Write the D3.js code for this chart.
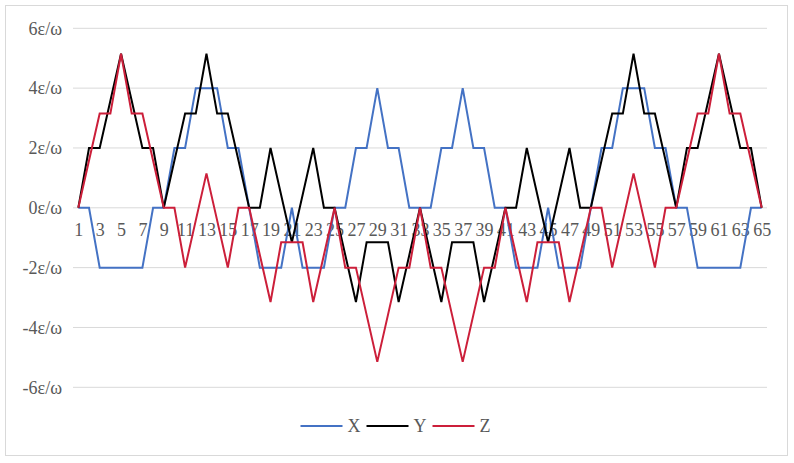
<!DOCTYPE html>
<html>
<head>
<meta charset="utf-8">
<title>X Y Z</title>
<script src="https://cdnjs.cloudflare.com/ajax/libs/d3/7.8.5/d3.min.js"></script>
<style>
	html, body { margin: 0; padding: 0; background: #fff; }
	svg text { font-family: "Liberation Serif", "Times New Roman", serif; fill: #595959; }
</style>
</head>
<body>
<svg id="chart" width="794" height="463"></svg>
<script>
(function (d3) {

	// categories 1..65 on the horizontal axis
	var categories = [
		1, 2, 3, 4, 5, 6, 7, 8, 9, 10, 11, 12, 13, 14, 15, 16, 17, 18, 19, 20,
		21, 22, 23, 24, 25, 26, 27, 28, 29, 30, 31, 32, 33, 34, 35, 36, 37, 38, 39, 40,
		41, 42, 43, 44, 45, 46, 47, 48, 49, 50, 51, 52, 53, 54, 55, 56, 57, 58, 59, 60,
		61, 62, 63, 64, 65
	];

	// only every other category gets a label
	var x_tick_labels = [1, 3, 5, 7, 9, 11, 13, 15, 17, 19, 21, 23, 25, 27, 29, 31, 33,
		35, 37, 39, 41, 43, 45, 47, 49, 51, 53, 55, 57, 59, 61, 63, 65];

	var y_ticks = [-6, -4, -2, 0, 2, 4, 6];

	// values in units of ε/ω
	var x_values = [
		0, 0, -2, -2, -2, -2, -2, 0, 0,
		2, 2, 4, 4, 4, 2, 2, 0,
		-2, -2, -2, 0, -2, -2, -2, 0,
		0, 2, 2, 4, 2, 2, 0, 0,
		0, 2, 2, 4, 2, 2, 0, 0,
		-2, -2, -2, 0, -2, -2, -2, 0,
		2, 2, 4, 4, 4, 2, 2, 0,
		0, -2, -2, -2, -2, -2, 0, 0
	];

	var y_values = [
		0, 2, 2, 3.58, 5.15, 3.58, 2, 2, 0,
		1.58, 3.15, 3.15, 5.15, 3.15, 3.15, 1.58, 0,
		0, 2, 0.42, -1.15, 0.42, 2, 0, 0,
		-1.58, -3.15, -1.15, -1.15, -1.15, -3.15, -1.58, 0,
		-1.58, -3.15, -1.15, -1.15, -1.15, -3.15, -1.58, 0,
		0, 2, 0.42, -1.15, 0.42, 2, 0, 0,
		1.58, 3.15, 3.15, 5.15, 3.15, 3.15, 1.58, 0,
		2, 2, 3.58, 5.15, 3.58, 2, 2, 0
	];

	var z_values = [
		0, 1.58, 3.15, 3.15, 5.15, 3.15, 3.15, 1.58, 0,
		0, -2, -0.42, 1.15, -0.42, -2, 0, 0,
		-1.58, -3.15, -1.15, -1.15, -1.15, -3.15, -1.58, 0,
		-2, -2, -3.58, -5.15, -3.58, -2, -2, 0,
		-2, -2, -3.58, -5.15, -3.58, -2, -2, 0,
		-1.58, -3.15, -1.15, -1.15, -1.15, -3.15, -1.58, 0,
		0, -2, -0.42, 1.15, -0.42, -2, 0, 0,
		1.58, 3.15, 3.15, 5.15, 3.15, 3.15, 1.58, 0
	];

	var series = [
		{ key: 'X', color: '#4472c4', values: x_values },
		{ key: 'Y', color: '#000000', values: y_values },
		{ key: 'Z', color: '#cc1f3a', values: z_values }
	];

	var svg = d3.select('#chart');

	// outer chart frame
	svg.append('rect')
		.attr('x', 5.5).attr('y', 5.5)
		.attr('width', 782).attr('height', 450)
		.attr('fill', '#fff')
		.attr('stroke', '#d9d9d9');

	var plot = { left: 73, right: 767, top: 28.3, bottom: 387.3 };

	var x = d3.scalePoint()
		.domain(categories)
		.range([plot.left, plot.right])
		.padding(0.5);

	var y = d3.scaleLinear()
		.domain([-6, 6])
		.range([plot.bottom, plot.top]);

	// horizontal gridlines
	svg.append('g')
		.selectAll('line')
		.data(y_ticks)
		.join('line')
		.attr('x1', plot.left).attr('x2', plot.right)
		.attr('y1', function(d) { return y(d); })
		.attr('y2', function(d) { return y(d); })
		.attr('stroke', '#d9d9d9')
		.attr('stroke-width', 1);

	var y_axis = svg.append('g')
		.attr('transform', 'translate(' + (plot.left - 11) + ',0)')
		.call(d3.axisLeft(y).tickValues(y_ticks).tickSize(0).tickPadding(0)
			.tickFormat(function(d) { return d + 'ε/ω'; }));
	y_axis.select('.domain').remove();
	y_axis.selectAll('text')
		.attr('font-size', 18)
		.attr('fill', '#595959')
		.style('font-family', '"Liberation Serif", serif');

	var x_axis = svg.append('g')
		.attr('transform', 'translate(0,' + y(0) + ')')
		.call(d3.axisBottom(x).tickValues(x_tick_labels).tickSize(0).tickPadding(15));
	x_axis.select('.domain').remove();
	x_axis.selectAll('text')
		.attr('font-size', 18)
		.attr('fill', '#595959')
		.style('font-family', '"Liberation Serif", serif');

	var line = d3.line()
		.x(function(d, i) { return x(categories[i]); })
		.y(function(d) { return y(d); });

	svg.append('g')
		.selectAll('path')
		.data(series)
		.join('path')
		.attr('d', function(s) { return line(s.values); })
		.attr('fill', 'none')
		.attr('stroke', function(s) { return s.color; })
		.attr('stroke-width', 2)
		.attr('stroke-linejoin', 'miter');

	// legend, centred under the plot
	var legend = svg.append('g').attr('transform', 'translate(300.5,426)');
	var item_x = 0;
	series.forEach(function(s) {
		legend.append('line')
			.attr('x1', item_x).attr('x2', item_x + 42)
			.attr('y1', 0).attr('y2', 0)
			.attr('stroke', s.color)
			.attr('stroke-width', 2);
		var label = legend.append('text')
			.attr('x', item_x + 47)
			.attr('y', 0)
			.attr('dy', '0.34em')
			.attr('font-size', 18)
			.text(s.key);
		item_x += 47 + label.node().getComputedTextLength() + 6;
	});

}(d3));
</script>
</body>
</html>
